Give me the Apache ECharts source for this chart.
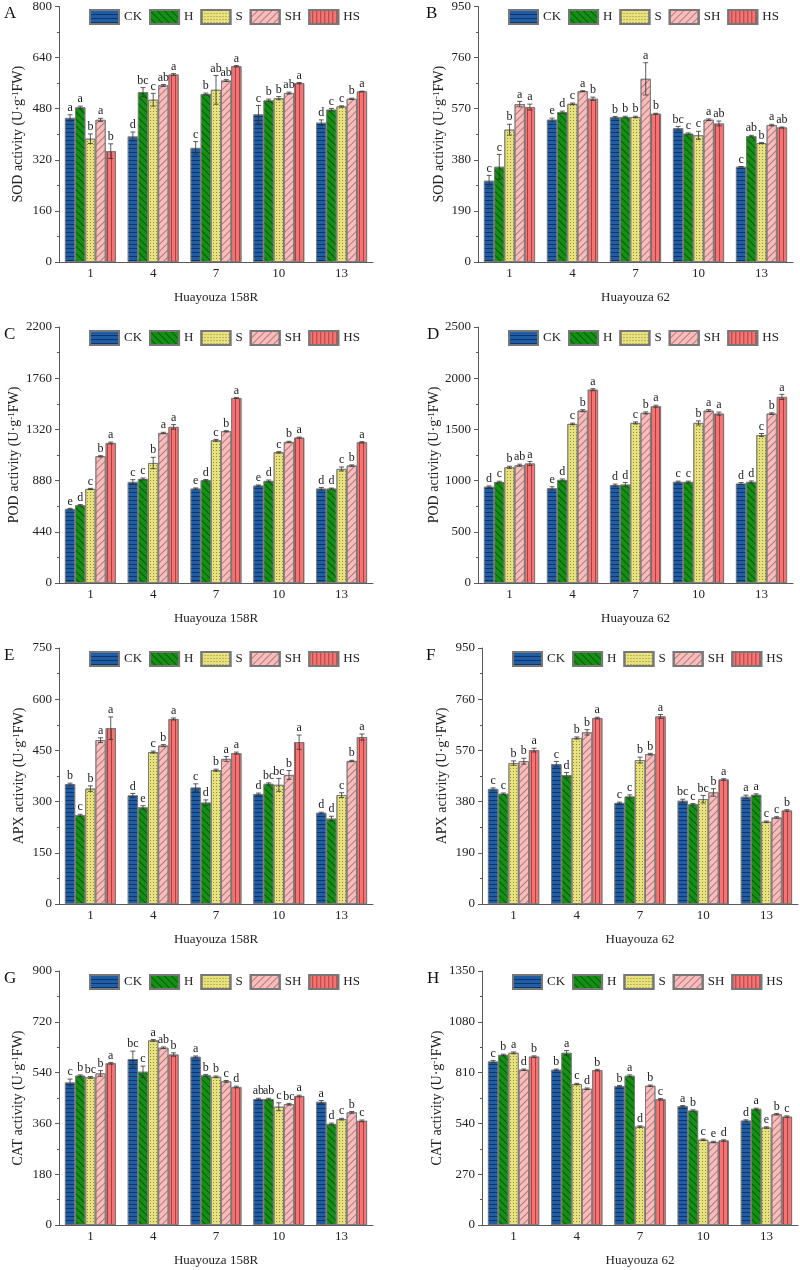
<!DOCTYPE html>
<html>
<head>
<meta charset="utf-8">
<script src="https://cdn.jsdelivr.net/npm/echarts@6/dist/echarts.min.js"></script>
<style>
  html, body { margin: 0; padding: 0; background: #fff; }
  #chart { width: 800px; height: 1270px; }
</style>
</head>
<body>
<div id="chart"></div>
<script>
// categories
const days = ['1', '4', '7', '10', '13'];
const treatments = ['CK', 'H', 'S', 'SH', 'HS'];

// rows: CK, H, S, SH, HS ; columns: day 1, 4, 7, 10, 13
const sodA = [
  [451, 393, 357, 462, 436],
  [484, 532, 526, 506, 477],
  [386, 508, 539, 513, 487],
  [445, 553, 568, 529, 511],
  [347, 587, 613, 560, 534]
];
const sodAErr = [
  [10, 14, 20, 28, 9],
  [4, 14, 3, 4, 4],
  [15, 20, 45, 5, 2],
  [5, 3, 3, 3, 2],
  [23, 3, 2, 2, 1]
];
const sodALetters = [
  ['a', 'd', 'c', 'c', 'd'],
  ['a', 'bc', 'b', 'b', 'c'],
  ['b', 'c', 'ab', 'b', 'c'],
  ['a', 'ab', 'ab', 'ab', 'b'],
  ['b', 'a', 'a', 'a', 'a']
];

const sodB = [
  [302, 529, 538, 497, 354],
  [354, 557, 539, 477, 468],
  [492, 588, 539, 471, 442],
  [587, 635, 681, 529, 509],
  [576, 607, 551, 515, 500]
];
const sodBErr = [
  [20, 6, 3, 7, 1],
  [46, 4, 3, 3, 3],
  [20, 3, 3, 15, 2],
  [10, 2, 60, 3, 3],
  [11, 6, 2, 9, 2]
];
const sodBLetters = [
  ['c', 'e', 'b', 'bc', 'c'],
  ['c', 'd', 'b', 'c', 'ab'],
  ['b', 'c', 'b', 'c', 'b'],
  ['a', 'a', 'a', 'a', 'a'],
  ['a', 'b', 'b', 'ab', 'ab']
];

const podC = [
  [636, 868, 811, 837, 811],
  [668, 894, 883, 877, 811],
  [808, 1031, 1226, 1123, 980],
  [1089, 1289, 1304, 1212, 1009],
  [1203, 1341, 1590, 1249, 1209]
];
const podCErr = [
  [5, 20, 6, 5, 10],
  [6, 8, 6, 8, 5],
  [5, 49, 8, 6, 17],
  [5, 6, 5, 6, 6],
  [8, 20, 5, 5, 6]
];
const podCLetters = [
  ['e', 'c', 'e', 'e', 'd'],
  ['d', 'c', 'd', 'd', 'd'],
  ['c', 'b', 'c', 'c', 'c'],
  ['b', 'a', 'b', 'b', 'b'],
  ['a', 'a', 'a', 'a', 'a']
];

const podD = [
  [940, 925, 956, 987, 971],
  [986, 1006, 961, 987, 987],
  [1130, 1553, 1563, 1563, 1445],
  [1150, 1683, 1661, 1683, 1654],
  [1167, 1888, 1726, 1654, 1817]
];
const podDErr = [
  [8, 15, 10, 8, 10],
  [8, 10, 20, 8, 10],
  [10, 8, 10, 20, 15],
  [10, 10, 10, 10, 8],
  [20, 10, 10, 15, 25]
];
const podDLetters = [
  ['d', 'e', 'd', 'c', 'd'],
  ['c', 'd', 'd', 'c', 'd'],
  ['b', 'c', 'c', 'b', 'c'],
  ['ab', 'b', 'b', 'a', 'b'],
  ['a', 'a', 'a', 'a', 'a']
];

const apxE = [
  [351, 318, 341, 322, 267],
  [260, 283, 297, 352, 250],
  [338, 445, 392, 349, 319],
  [480, 464, 425, 378, 419],
  [515, 542, 442, 474, 489]
];
const apxEErr = [
  [3, 6, 11, 3, 2],
  [3, 5, 8, 3, 7],
  [8, 3, 3, 19, 7],
  [7, 3, 7, 13, 2],
  [33, 3, 3, 21, 9]
];
const apxELetters = [
  ['b', 'd', 'c', 'd', 'd'],
  ['c', 'e', 'd', 'bc', 'd'],
  ['b', 'c', 'b', 'bc', 'c'],
  ['a', 'b', 'a', 'b', 'b'],
  ['a', 'a', 'a', 'a', 'a']
];

const apxF = [
  [427, 519, 375, 383, 398],
  [409, 478, 399, 370, 405],
  [523, 616, 534, 389, 305],
  [530, 637, 556, 414, 321],
  [571, 690, 696, 462, 347]
];
const apxFErr = [
  [4, 10, 3, 6, 6],
  [3, 10, 6, 3, 4],
  [8, 4, 11, 14, 3],
  [11, 10, 3, 14, 3],
  [7, 3, 7, 3, 3]
];
const apxFLetters = [
  ['c', 'c', 'c', 'bc', 'a'],
  ['c', 'd', 'c', 'c', 'a'],
  ['b', 'b', 'b', 'bc', 'c'],
  ['b', 'b', 'b', 'b', 'c'],
  ['a', 'a', 'a', 'a', 'b']
];

const catG = [
  [505, 588, 596, 446, 436],
  [529, 543, 530, 446, 358],
  [523, 654, 525, 419, 375],
  [537, 628, 509, 428, 399],
  [573, 604, 489, 457, 369]
];
const catGErr = [
  [12, 28, 3, 3, 5],
  [3, 20, 3, 3, 3],
  [3, 3, 3, 14, 3],
  [10, 3, 3, 3, 3],
  [3, 6, 3, 3, 3]
];
const catGLetters = [
  ['c', 'bc', 'a', 'ab', 'a'],
  ['b', 'c', 'b', 'ab', 'd'],
  ['bc', 'a', 'b', 'c', 'c'],
  ['b', 'ab', 'c', 'bc', 'b'],
  ['a', 'b', 'd', 'a', 'c']
];

const catH = [
  [869, 825, 738, 631, 555],
  [904, 915, 793, 608, 617],
  [915, 749, 523, 453, 518],
  [825, 724, 740, 441, 589],
  [895, 823, 668, 449, 576]
];
const catHErr = [
  [6, 4, 4, 4, 4],
  [4, 12, 5, 4, 4],
  [5, 4, 4, 4, 4],
  [4, 4, 4, 4, 4],
  [4, 4, 4, 4, 4]
];
const catHLetters = [
  ['c', 'b', 'b', 'a', 'd'],
  ['b', 'a', 'a', 'b', 'a'],
  ['a', 'c', 'd', 'c', 'e'],
  ['d', 'd', 'b', 'e', 'b'],
  ['b', 'b', 'c', 'd', 'c']
];

const serif = '"Liberation Serif", "Times New Roman", serif';

// fill colour + pattern of each treatment
const barStyles = [
  { color: '#1f5ea6', decal: { symbol: 'rect', symbolSize: 1, dashArrayX: [1, 0], dashArrayY: [1, 3], rotation: 0, color: 'rgba(8,30,70,0.65)' } },
  { color: '#149014', decal: { symbol: 'rect', symbolSize: 1, dashArrayX: [1, 0], dashArrayY: [1, 4], rotation: Math.PI / 4, color: 'rgba(0,50,0,0.6)' } },
  { color: '#e8e27c', decal: { symbol: 'rect', symbolSize: 1, dashArrayX: [1, 2], dashArrayY: [1, 2], rotation: 0, color: 'rgba(110,100,40,0.7)' } },
  { color: '#f7bdbd', decal: { symbol: 'rect', symbolSize: 1, dashArrayX: [1, 0], dashArrayY: [1, 4], rotation: -Math.PI / 4, color: 'rgba(150,80,80,0.65)' } },
  { color: '#f47474', decal: { symbol: 'rect', symbolSize: 1, dashArrayX: [1, 0], dashArrayY: [1, 3], rotation: Math.PI / 2, color: 'rgba(120,30,30,0.6)' } }
];

const panels = [
  { tag: 'A', unit: 'SOD', vals: sodA, err: sodAErr, let: sodALetters, max: 800, step: 160, cv: 'Huayouza 158R', left: 59, top: 6, width: 314, height: 256, gap: 34, lx: 89, tx: 4 },
  { tag: 'B', unit: 'SOD', vals: sodB, err: sodBErr, let: sodBLetters, max: 950, step: 190, cv: 'Huayouza 62', left: 478, top: 6, width: 315, height: 256, gap: 32, lx: 508, tx: 426 },
  { tag: 'C', unit: 'POD', vals: podC, err: podCErr, let: podCLetters, max: 2200, step: 440, cv: 'Huayouza 158R', left: 59, top: 327, width: 314, height: 256, gap: 38, lx: 89, tx: 4 },
  { tag: 'D', unit: 'POD', vals: podD, err: podDErr, let: podDLetters, max: 2500, step: 500, cv: 'Huayouza 62', left: 478, top: 327, width: 315, height: 256, gap: 37, lx: 508, tx: 427 },
  { tag: 'E', unit: 'APX', vals: apxE, err: apxEErr, let: apxELetters, max: 750, step: 150, cv: 'Huayouza 158R', left: 59, top: 648, width: 314, height: 256, gap: 33, lx: 89, tx: 4 },
  { tag: 'F', unit: 'APX', vals: apxF, err: apxFErr, let: apxFLetters, max: 950, step: 190, cv: 'Huayouza 62', left: 482, top: 648, width: 316, height: 256, gap: 33, lx: 512, tx: 426 },
  { tag: 'G', unit: 'CAT', vals: catG, err: catGErr, let: catGLetters, max: 900, step: 180, cv: 'Huayouza 158R', left: 59, top: 971, width: 314, height: 254, gap: 34, lx: 89, tx: 4 },
  { tag: 'H', unit: 'CAT', vals: catH, err: catHErr, let: catHLetters, max: 1350, step: 270, cv: 'Huayouza 62', left: 482, top: 971, width: 316, height: 254, gap: 38, lx: 512, tx: 427 }
];

const axisGray = '#5a5a5a';
const groupShare = 0.81; // 1 - barCategoryGap

function errorBars(p, k) {
  return function (params, api) {
    const i = api.value(0);
    const v = api.value(1);
    const e = api.value(2);
    const hi = api.coord([i, v + e]);
    const lo = api.coord([i, v - e]);
    const band = api.size([1, 0])[0];
    const bw = band * groupShare / treatments.length;
    const x = hi[0] + (k - 2) * bw;
    const cap = 2.5;
    const ln = { stroke: '#333', lineWidth: 0.8 };
    return {
      type: 'group',
      children: [
        { type: 'line', shape: { x1: x, y1: hi[1], x2: x, y2: lo[1] }, style: ln },
        { type: 'line', shape: { x1: x - cap, y1: hi[1], x2: x + cap, y2: hi[1] }, style: ln },
        { type: 'line', shape: { x1: x - cap, y1: lo[1], x2: x + cap, y2: lo[1] }, style: ln },
        {
          type: 'text',
          style: {
            text: p.let[k][params.dataIndex],
            x: x, y: hi[1] - 1,
            textAlign: 'center', textVerticalAlign: 'bottom',
            font: '12px ' + serif, fill: '#222'
          }
        }
      ]
    };
  };
}

const option = {
  animation: false,
  backgroundColor: '#fff',
  grid: panels.map(p => ({ left: p.left, top: p.top, width: p.width, height: p.height, containLabel: false })),
  xAxis: panels.map((p, n) => ({
    type: 'category',
    gridIndex: n,
    data: days,
    name: p.cv,
    nameLocation: 'middle',
    nameGap: 29,
    nameMoveOverlap: false,
    nameTextStyle: { fontFamily: serif, fontSize: 13, color: '#222' },
    axisLine: { lineStyle: { color: axisGray, width: 1 } },
    axisTick: { alignWithLabel: true, length: 3, lineStyle: { color: axisGray } },
    axisLabel: { fontFamily: serif, fontSize: 13, color: '#222', margin: 5 },
    splitLine: { show: false }
  })),
  yAxis: panels.map((p, n) => ({
    type: 'value',
    gridIndex: n,
    min: 0,
    max: p.max,
    interval: p.step,
    name: p.unit + ' activity (U·g{sup|-1}FW)',
    nameLocation: 'middle',
    nameGap: p.gap,
    nameMoveOverlap: false,
    nameTextStyle: {
      fontFamily: serif, fontSize: 14, color: '#222',
      rich: { sup: { fontFamily: serif, fontSize: 9, color: '#222', verticalAlign: 'top', padding: [0, 0, 5, 0] } }
    },
    axisLine: { show: true, lineStyle: { color: axisGray, width: 1 } },
    axisTick: { show: true, length: 4, lineStyle: { color: axisGray } },
    minorTick: { show: true, splitNumber: 2, length: 2, lineStyle: { color: axisGray } },
    axisLabel: { fontFamily: serif, fontSize: 13, color: '#222', margin: 7, formatter: v => String(v) },
    splitLine: { show: false },
    minorSplitLine: { show: false }
  })),
  legend: panels.map(p => ({
    data: treatments,
    left: p.lx,
    top: p.top + 3,
    padding: 0,
    itemWidth: 29,
    itemHeight: 14,
    itemGap: 7,
    icon: 'rect',
    selectedMode: false,
    textStyle: { fontFamily: serif, fontSize: 13, color: '#222' }
  })),
  graphic: panels.map(p => ({
    type: 'text',
    left: p.tx,
    top: p.top - 1,
    style: { text: p.tag, font: '17px ' + serif, fill: '#111' }
  })),
  series: []
};

panels.forEach((p, n) => {
  treatments.forEach((t, k) => {
    option.series.push({
      type: 'bar',
      name: t,
      xAxisIndex: n,
      yAxisIndex: n,
      data: p.vals[k],
      barGap: '0%',
      barCategoryGap: '19%',
      itemStyle: {
        color: barStyles[k].color,
        decal: barStyles[k].decal,
        borderColor: '#777',
        borderWidth: 0.8
      },
      emphasis: { disabled: true }
    });
  });
  treatments.forEach((t, k) => {
    option.series.push({
      type: 'custom',
      name: 'err-' + p.tag + '-' + t,
      xAxisIndex: n,
      yAxisIndex: n,
      data: p.vals[k].map((v, i) => [i, v, p.err[k][i]]),
      encode: { x: 0, y: 1 },
      renderItem: errorBars(p, k),
      clip: false,
      z: 5,
      silent: true
    });
  });
});

const chart = echarts.init(document.getElementById('chart'));
chart.setOption(option);
window.addEventListener('resize', () => chart.resize());
</script>
</body>
</html>
